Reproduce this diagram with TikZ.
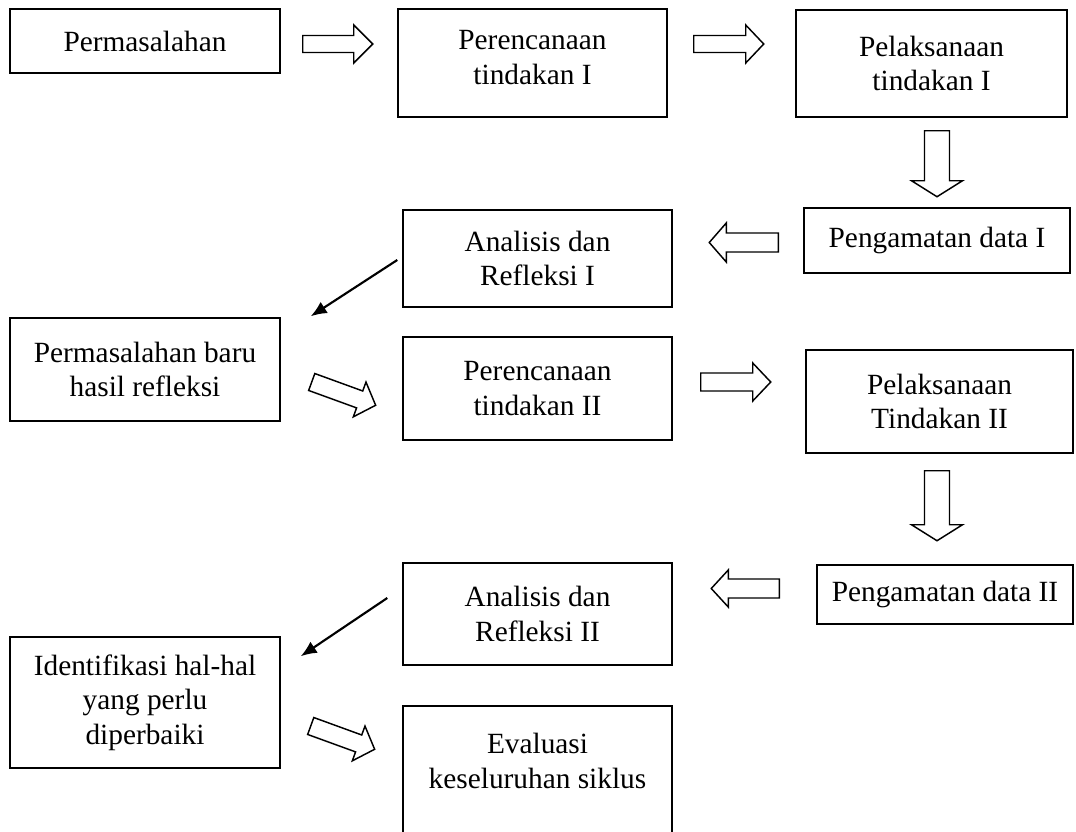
\documentclass[tikz,border=0pt]{standalone}
\usepackage{fontspec}
\setmainfont{Liberation Serif}
\usetikzlibrary{calc,arrows.meta}
\tikzset{
  box/.style={draw, line width=1.1pt, align=center, inner sep=0pt,
    font=\fontsize{22}{26}\selectfont},
  blkline/.style={draw, line width=1.1pt, fill=white, line join=miter},
  thinarrow/.style={line width=1.6pt, -{Latex[length=12pt,width=10pt]}}
}
% block arrow: tail coordinate, angle, length, shaft half width, head half width, head length
\newcommand\blkarrow[6]{%
  \draw[blkline, shift={(#1)}, rotate=#2]
    (0,-#4) -- ({#3-#6},-#4) -- ({#3-#6},-#5) -- (#3,0) --
    ({#3-#6},#5) -- ({#3-#6},#4) -- (0,#4) -- cycle;}
\begin{document}
\begin{tikzpicture}[x=0.75pt, y=-0.75pt]
\useasboundingbox (0,0) rectangle (1076,832);
\clip (0,0) rectangle (1076,832);

\node[box, minimum width=270*0.75pt, minimum height=64*0.75pt] (p1) at (145,41) {Permasalahan};
\node[box, minimum width=269*0.75pt, minimum height=108*0.75pt] (r1) at (532.5,63) {Perencanaan\\tindakan I\\[-18pt]\mbox{}};
\node[box, minimum width=271*0.75pt, minimum height=107*0.75pt] (l1) at (931.5,63.5) {Pelaksanaan\\tindakan I};
\node[box, minimum width=266*0.75pt, minimum height=65*0.75pt] (o1) at (937,240.5) {Pengamatan data I};
\node[box, minimum width=269*0.75pt, minimum height=97*0.75pt] (a1) at (537.5,258.5) {Analisis dan\\Refleksi I};
\node[box, minimum width=270*0.75pt, minimum height=103*0.75pt] (p2) at (145,369.5) {Permasalahan baru\\hasil refleksi};
\node[box, minimum width=269*0.75pt, minimum height=103*0.75pt] (r2) at (537.5,388.5) {Perencanaan\\tindakan II};
\node[box, minimum width=267*0.75pt, minimum height=103*0.75pt] (l2) at (939.5,401.5) {Pelaksanaan\\Tindakan II};
\node[box, minimum width=256*0.75pt, minimum height=59*0.75pt] (o2) at (945,594.5) {Pengamatan data II};
\node[box, minimum width=269*0.75pt, minimum height=102*0.75pt] (a2) at (537.5,614) {Analisis dan\\Refleksi II};
\node[box, minimum width=270*0.75pt, minimum height=131*0.75pt] (p3) at (145,702.5) {Identifikasi hal-hal\\yang perlu\\diperbaiki};
\node[box, minimum width=269*0.75pt, minimum height=144*0.75pt] (ev) at (537.5,778) {Evaluasi\\keseluruhan siklus\\\mbox{}};

% block arrow tails
\coordinate (t1) at ($(p1.east)+(22,3)$);
\coordinate (t2) at ($(r1.east)+(26,-19)$);
\coordinate (t3) at ($(l1.south)+(5.5,13)$);
\coordinate (t4) at ($(o1.west)+(-25,2)$);
\coordinate (t5) at ($(p2.east)+(31,12.5)$);
\coordinate (t6) at ($(r2.east)+(28,-6.5)$);
\coordinate (t7) at ($(l2.south)+(-2.5,17)$);
\coordinate (t8) at ($(o2.west)+(-37,-6)$);
\coordinate (t9) at ($(p3.east)+(30,23.5)$);

\blkarrow{t1}{0}{70}{8.5}{19}{19}
\blkarrow{t2}{0}{70}{8.5}{19}{18}
\blkarrow{t3}{-90}{66}{12.5}{25.5}{16}
\blkarrow{t4}{180}{69}{9.5}{19.5}{17}
\blkarrow{t5}{-20}{68}{9}{18.5}{17}
\blkarrow{t6}{0}{70}{9}{19}{18}
\blkarrow{t7}{-90}{70}{12.5}{25.5}{16}
\blkarrow{t8}{180}{68}{9.5}{18.5}{17}
\blkarrow{t9}{-20}{68}{9}{18.5}{17}

% line arrows
\coordinate (a1out) at ($(a1.west)+(-5,1.5)$);
\coordinate (p2in) at ($(p2.north east)+(30,-1)$);
\draw[thinarrow] (a1out) -- (p2in);
\coordinate (a2out) at ($(a2.west)+(-15,-16)$);
\coordinate (p3in) at ($(p3.north east)+(20,20)$);
\draw[thinarrow] (a2out) -- (p3in);
\end{tikzpicture}
\end{document}
